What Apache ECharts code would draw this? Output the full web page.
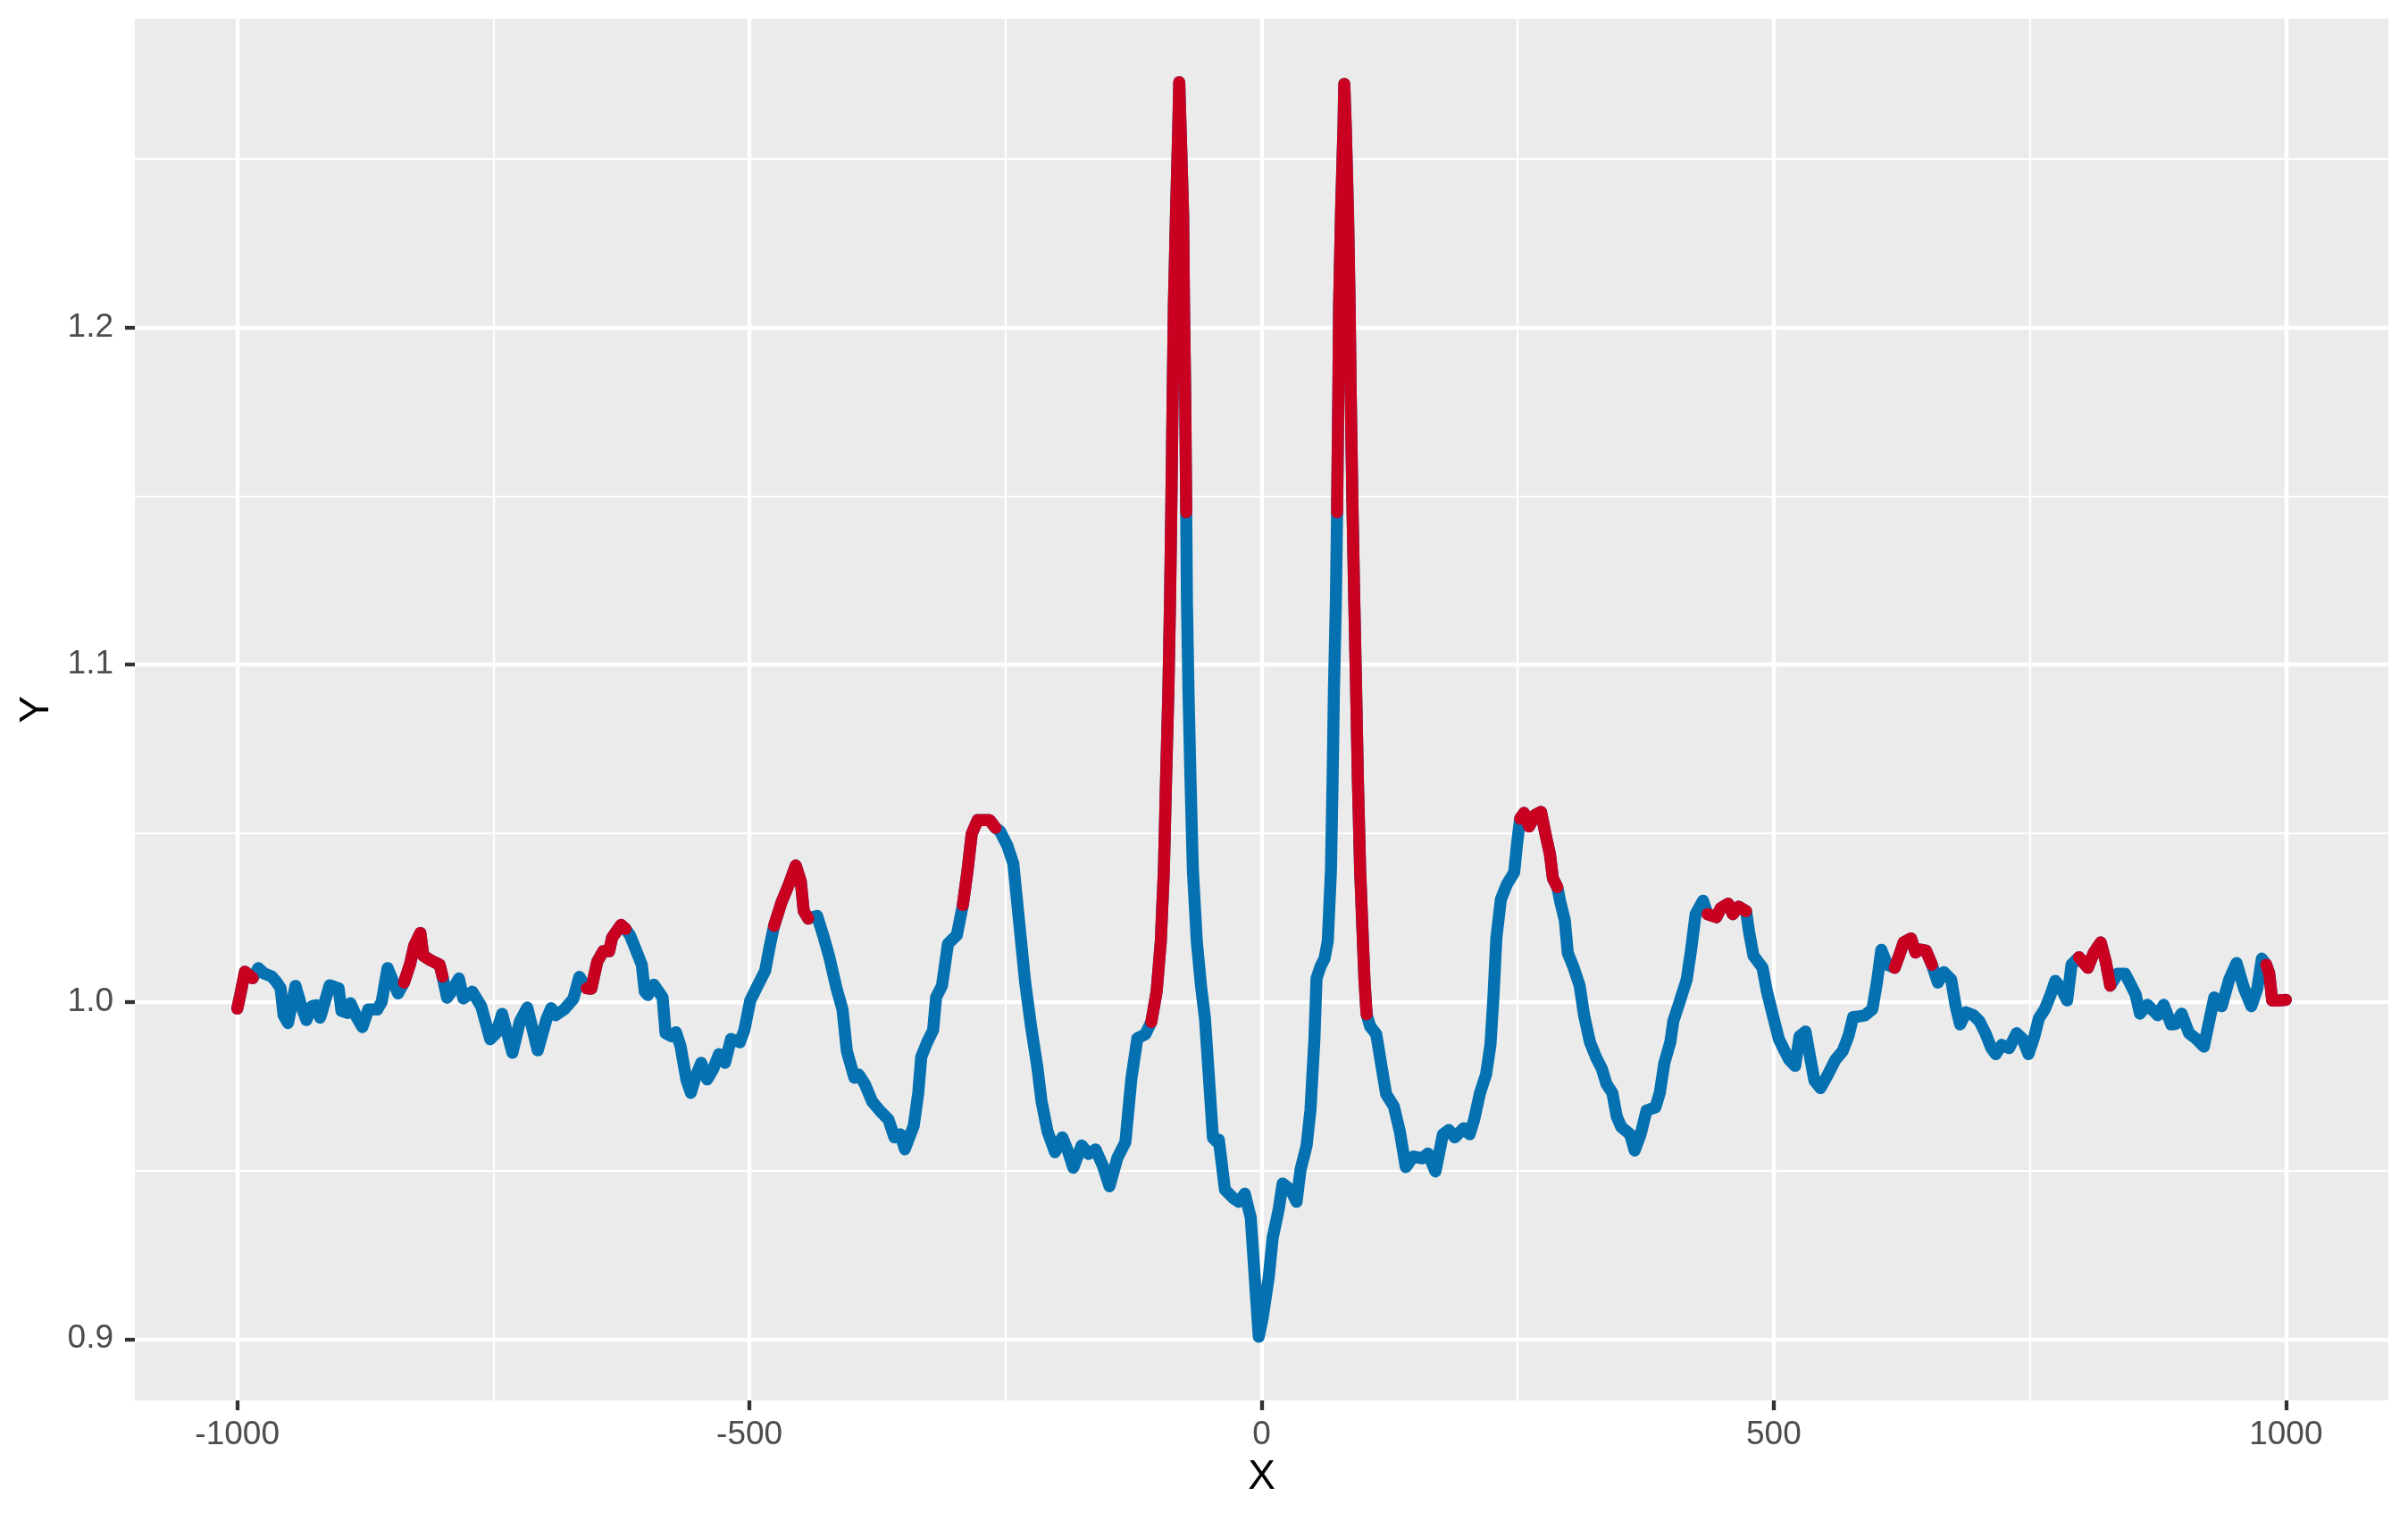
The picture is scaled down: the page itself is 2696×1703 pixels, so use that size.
<!DOCTYPE html>
<html>
<head>
<meta charset="utf-8">
<script src="https://cdn.jsdelivr.net/npm/echarts@6/dist/echarts.min.js"></script>
<style>
html,body{margin:0;padding:0;background:#fff;}
#chart{width:2696px;height:1703px;}
</style>
</head>
<body>
<div id="chart"></div>
<script>
// ---- data ----
const xs = [
-1000,-997,-992.6,-985,-979.5,-973.7,-966.4,-962.1,-957.7,-954.8,-950.5,-943.2,-937.4,-932.5,-927.2,-922.9,-919.1,-909.8,-901.1,-898.3,
-892.4,-889.5,-883.7,-877.9,-872.1,-863.4,-859,-853.3,-847.5,-843.1,-837.3,-831.5,-827.2,-821.3,-818.4,-811.2,-802.5,-799.6,-795.2,-790.9,
-783.6,-779.3,-770.6,-761.9,-753.1,-747.3,-741.5,-731.4,-724.1,-716.9,-706.7,-698,-693.6,-689.3,-680.6,-671.9,-666.1,-658.9,-654.4,-648.6,
-642.8,-637,-634.1,-625.4,-621,-616.7,-610.9,-605.1,-602.2,-599.3,-593.5,-584.8,-581.9,-576.1,-571.8,-567.4,-561.6,-557.2,-552.9,-547.1,
-541.3,-535.5,-529.7,-523.9,-518,-509.4,-505,-499.2,-492,-484.7,-480.3,-476,-468.7,-461.5,-454.8,-449.9,-447,-442.6,-433.9,-428.1,
-422.3,-415,-409.2,-404.9,-397.6,-393.3,-387.5,-380.2,-373,-364.3,-358.5,-352.6,-348.3,-339.6,-335.2,-332.3,-326.5,-320.7,-317.8,-312,
-306.2,-297.5,-291.7,-287.3,-283,-277.2,-265.6,-259.8,-255.4,-248.2,-242.4,-236.6,-230.8,-225,-219.1,-214.8,-209,-201.7,-194.5,-188.7,
-183.8,-175.7,-169,-162.1,-155,-148.5,-140.8,-133,-127.1,-121.3,-113.5,-107.7,-102.5,-98.4,-95.4,-93.3,-91,-89.4,-88.2,-86.8,
-85.6,-83.6,-81.3,-80.4,-79.2,-76.6,-75.8,-74.6,-73.6,-72.9,-71.4,-69.4,-67.1,-63.3,-59.1,-55.3,-51.4,-47.5,-43.7,-41.8,
-35.8,-28,-22.2,-16.4,-10.6,-6.7,-2.8,1.1,6.9,10.8,16.6,20.5,28.3,34.1,38,43.9,47.7,51.6,53.6,57.5,
61.4,64.6,67.7,69.3,70.6,72.5,73.7,74.9,75.7,77.5,80,80.7,82.1,84.4,85.9,87,88.8,90.5,92.3,94,
96.2,98.9,100.5,102.5,106,111.9,117.7,121.6,129.1,134.9,140.7,148,156.7,162.5,169.7,177,182.8,188.6,197.3,203.1,
207.5,213.3,219.1,223.4,226.3,229.2,233.6,239.4,246.6,249.5,252.4,256.2,261.1,267,272.8,277.1,281.5,284.4,288.7,291.6,
296,298.9,304.7,310.5,314.8,320.6,326.4,332.2,336.6,342.4,346.7,351.1,359.8,364.2,370,375.8,384.5,388.8,393.2,399,
401.9,407.7,415,419.3,423.7,430.9,435.3,444,448.3,455.6,460,465.8,473,475.9,480.2,489,493.3,499.1,504.9,510.7,
515.1,520.9,525.2,531,535.4,539.7,545.6,552.8,560.1,567.3,573.1,577.5,581.8,589,596.3,600.7,605,610.8,618.1,622.4,
626.8,634,638.4,642.7,648.6,654.4,660.2,666,673.2,677.6,681.9,687.7,695,700.8,706.6,712.4,716.7,722.6,729.8,737.1,
742.9,748.7,754.5,758.8,764.6,770.4,774.8,780.6,786.4,790.7,798,806.7,812.5,819.2,824.1,828.5,835.7,843,847.4,853.2,
857.5,864.8,874.9,880.7,888,892.3,898.1,905.4,912.6,919.9,925.7,930.1,937.3,944.6,951.8,959.1,966.3,972.1,976.5,980.8,
983.7,986.6,992.5,1000
];
const ys = [
0.998,1.0022,1.0089,1.007,1.010,1.0084,1.0075,1.006,1.004,0.996,0.9937,1.0047,0.9987,0.9946,0.9987,0.999,0.9953,1.0049,1.004,0.9973,
0.9967,0.9996,0.9956,0.9925,0.9977,0.9977,1.0,1.010,1.0057,1.0025,1.0057,1.011,1.0167,1.0204,1.0137,1.0123,1.011,1.0075,1.0012,1.003,
1.0069,1.001,1.003,0.9987,0.9889,0.9907,0.9964,0.9849,0.9942,0.9983,0.9856,0.995,0.9981,0.996,0.9978,1.0009,1.0074,1.004,1.0039,1.0119,
1.015,1.015,1.019,1.0228,1.0216,1.0198,1.0154,1.011,1.003,1.002,1.0051,1.0013,0.9907,0.9898,0.991,0.987,0.977,0.973,0.9775,0.9819,
0.977,0.980,0.9845,0.9819,0.989,0.988,0.9916,1.0004,1.0048,1.0092,1.0163,1.0225,1.0295,1.0348,1.0404,1.0357,1.0269,1.0247,1.0255,1.0198,
1.0136,1.004,0.9978,0.9854,0.9775,0.9784,0.9757,0.9704,0.9678,0.9651,0.9598,0.9607,0.9563,0.9633,0.973,0.9836,0.988,0.9916,1.0013,1.0048,
1.0172,1.0198,1.0287,1.0384,1.0498,1.0539,1.0539,1.0516,1.0506,1.0463,1.041,1.0233,1.0057,0.9925,0.981,0.9704,0.9616,0.9554,0.9598,0.9554,
0.9508,0.9574,0.9549,0.9562,0.9514,0.9453,0.9537,0.9584,0.9773,0.9892,0.9904,0.994,1.003,1.018,1.039,1.0657,1.0922,1.1187,1.1452,1.18,
1.207,1.2334,1.26,1.2727,1.26,1.2334,1.207,1.18,1.1452,1.1187,1.0922,1.0657,1.039,1.018,1.0045,0.9951,0.9774,0.9596,0.9585,0.9591,
0.9443,0.9419,0.9407,0.9431,0.936,0.9182,0.9007,0.9064,0.9182,0.93,0.9383,0.9461,0.9443,0.9407,0.9502,0.9573,0.9679,0.9892,1.0069,1.0105,
1.0128,1.018,1.039,1.0657,1.0922,1.1187,1.1452,1.18,1.207,1.2334,1.26,1.2722,1.26,1.2334,1.207,1.18,1.1452,1.1187,1.0922,1.0657,
1.039,1.018,1.006,0.9963,0.9927,0.9904,0.9797,0.9726,0.969,0.9616,0.951,0.9541,0.9536,0.955,0.9497,0.9607,0.962,0.9598,0.9625,0.9607,
0.9651,0.9731,0.9784,0.9872,1.0013,1.019,1.0304,1.0348,1.0384,1.0472,1.0543,1.056,1.052,1.0554,1.0563,1.0498,1.0437,1.0366,1.034,1.0296,
1.0242,1.0145,1.0101,1.0048,0.996,0.988,0.9836,0.9801,0.9757,0.973,0.966,0.9629,0.9607,0.9559,0.9607,0.9678,0.9687,0.9731,0.9819,0.988,
0.9942,0.9996,1.0066,1.0154,1.026,1.03,1.026,1.0251,1.0278,1.0291,1.026,1.0282,1.0269,1.0207,1.0137,1.0101,1.0031,0.996,0.989,0.9854,
0.9828,0.981,0.9898,0.9912,0.9837,0.9766,0.9744,0.9784,0.9828,0.9854,0.99,0.9955,0.9956,0.996,0.9978,1.0057,1.0154,1.011,1.0101,1.0137,
1.0176,1.0188,1.0146,1.0155,1.0152,1.011,1.0057,1.0088,1.0066,0.9987,0.9933,0.9969,0.996,0.9942,0.9907,0.9863,0.9845,0.9872,0.9863,0.9907,
0.989,0.9845,0.9898,0.9951,0.9978,1.0022,1.0062,1.004,1.0004,1.011,1.0132,1.0101,1.0146,1.0176,1.0119,1.0048,1.0083,1.0083,1.0057,1.0022,
0.9965,0.9991,0.996,0.9991,0.9933,0.9934,0.9965,0.9907,0.989,0.9867,0.9951,1.0013,0.9987,1.0066,1.0115,1.004,0.9987,1.004,1.0128,1.011,
1.0084,1.0004,1.0004,1.0006
];
// x-intervals (from / to) where the path is drawn in the highlight (red) colour
const redStarts = [-1000, -837.3, -658.9, -476, -291.7, -107.7, 73.7, 252.4, 435.3, 618.1, 798, 980.8];
const redEnds   = [-985, -799.6, -621, -442.6, -259.8, -73.6, 102.5, 288.7, 473, 654.4, 828.5, 1000];

const xTicks = [-1000, -500, 0, 500, 1000];
const xTickLabels = ['-1000', '-500', '0', '500', '1000'];
const xMinor = [-750, -250, 250, 750];
const yTicks = [0.9, 1.0, 1.1, 1.2];
const yTickLabels = ['0.9', '1.0', '1.1', '1.2'];
const yMinor = [0.95, 1.05, 1.15, 1.25];

const RED = '#CA0020', BLUE = '#0571B0';
const FONT = 'Liberation Sans, Arial, sans-serif';
const LW = 13.5;

function isRed(x) {
  for (let k = 0; k < redStarts.length; k++) {
    if (x >= redStarts[k] - 1e-9 && x <= redEnds[k] + 1e-9) return true;
  }
  return false;
}
const blueData = xs.map((x, i) => [x, ys[i]]);
const redData = xs.map((x, i) => isRed(x) ? [x, ys[i]] : [x, '-']);

function labelFor(ticks, labels) {
  return function (v) {
    for (let i = 0; i < ticks.length; i++) {
      if (Math.abs(ticks[i] - v) < 1e-9) return labels[i];
    }
    return '';
  };
}

const chart = echarts.init(document.getElementById('chart'), null, { renderer: 'canvas' });
chart.setOption({
  animation: false,
  backgroundColor: '#FFFFFF',
  grid: {
    left: 151, right: 22, top: 21, bottom: 135,
    show: true, backgroundColor: '#EBEBEB', borderWidth: 0
  },
  xAxis: [
    {
      type: 'value', min: -1100, max: 1100, position: 'bottom',
      axisLine: { show: false, onZero: false },
      axisTick: { show: true, length: 11, customValues: xTicks, lineStyle: { color: '#333333', width: 4.3 } },
      axisLabel: { customValues: xTicks, formatter: labelFor(xTicks, xTickLabels), fontSize: 37, color: '#4D4D4D', margin: 20, fontFamily: FONT },
      splitLine: { show: true, lineStyle: { color: '#FFFFFF', width: 4.3 } },
      name: 'X', nameLocation: 'middle', nameGap: 63,
      nameTextStyle: { fontSize: 46, color: '#000000', fontFamily: FONT }
    },
    {
      type: 'value', min: -1100, max: 1100, position: 'bottom',
      axisLine: { show: false, onZero: false },
      axisTick: { show: false, customValues: xMinor },
      axisLabel: { show: false },
      splitLine: { show: true, lineStyle: { color: '#FFFFFF', width: 2.2 } }
    }
  ],
  yAxis: [
    {
      type: 'value', min: 0.8818, max: 1.2915, position: 'left',
      axisLine: { show: false, onZero: false },
      axisTick: { show: true, length: 11, customValues: yTicks, lineStyle: { color: '#333333', width: 4.3 } },
      axisLabel: { customValues: yTicks, formatter: labelFor(yTicks, yTickLabels), fontSize: 37, color: '#4D4D4D', margin: 24, fontFamily: FONT },
      splitLine: { show: true, lineStyle: { color: '#FFFFFF', width: 4.3 } },
      name: 'Y', nameLocation: 'middle', nameGap: 82,
      nameTextStyle: { fontSize: 46, color: '#000000', fontFamily: FONT }
    },
    {
      type: 'value', min: 0.8818, max: 1.2915, position: 'left',
      axisLine: { show: false, onZero: false },
      axisTick: { show: false, customValues: yMinor },
      axisLabel: { show: false },
      splitLine: { show: true, lineStyle: { color: '#FFFFFF', width: 2.2 } }
    }
  ],
  series: [
    {
      name: 'blue', type: 'line', xAxisIndex: 0, yAxisIndex: 0,
      data: blueData,
      showSymbol: false, symbol: 'none', clip: false,
      lineStyle: { width: LW, color: BLUE, cap: 'round', join: 'round' },
      z: 5
    },
    {
      name: 'red', type: 'line', xAxisIndex: 0, yAxisIndex: 0,
      data: redData, connectNulls: false,
      showSymbol: false, symbol: 'none', clip: false,
      lineStyle: { width: LW, color: RED, cap: 'round', join: 'round' },
      z: 6
    }
  ]
});
</script>
</body>
</html>
